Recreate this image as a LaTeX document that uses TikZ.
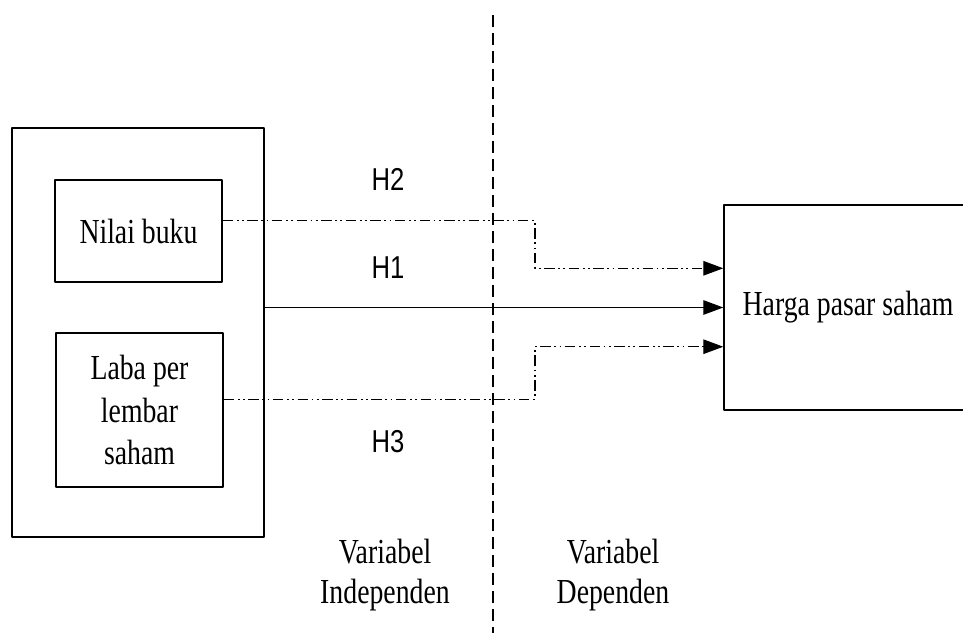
\documentclass[tikz,border=0pt]{standalone}
\usepackage{fontspec}
\setmainfont{Liberation Serif}[FakeStretch=0.79]
\newfontfamily\hfont{Liberation Sans}[FakeStretch=0.81]
\usetikzlibrary{arrows.meta,calc,positioning}

\begin{document}
\begin{tikzpicture}[x=0.2mm,y=-0.2mm,line join=round,
  box/.style={draw,line width=0.8pt,inner sep=0pt,align=center,font=\fontsize{20}{24}\selectfont},
  hyp/.style={font=\hfont\fontsize{18}{20}\selectfont},
  varlbl/.style={align=center,font=\fontsize{20}{23}\selectfont},
  dd/.style={line width=0.7pt,dash pattern=on 6pt off 2pt on 1pt off 2pt on 1pt off 2pt},
  tip/.style={-{Triangle[length=4mm,width=2.9mm]}},
  divider/.style={line width=0.6pt,dash pattern=on 2.4mm off 1.2mm}]
\useasboundingbox (0,0) rectangle (963,633);
% boxes
\node[box,minimum width=50.4mm,minimum height=81.8mm] (indep) at (138,332.5) {};
\node[box,minimum width=33.4mm,minimum height=20.4mm] (nilai) at (138.5,231) {Nilai buku};
\node[box,minimum width=33.4mm,minimum height=30.8mm] (laba) at (139.5,410) {Laba per\\lembar\\saham};
\node[box,minimum width=49.6mm,minimum height=41mm] (harga) at (848,307.5) {Harga pasar saham};
% divider
\coordinate (top) at (493,15);
\coordinate (bot) at (493,633);
\draw[divider] (top) -- (bot);
% connectors
\coordinate (a2) at ($(nilai.north east)!0.4!(nilai.south east)$);
\coordinate (a3) at ($(laba.north east)!0.43!(laba.south east)$);
\coordinate (c2) at ($(harga.north west)!0.31!(harga.south west)$);
\coordinate (c3) at ($(harga.north west)!0.69!(harga.south west)$);
\coordinate (bend) at (535,0);
\draw[dd,tip] (a2) -| (bend |- c2) -- (c2);
\draw[line width=0.7pt,tip] (indep.east |- harga.west) -- (harga.west);
\draw[dd,tip] (a3) -| (bend |- c3) -- (c3);
% labels
\node[hyp] (h2) at (388,179) {H2};
\node[hyp] (h1) at (388,268) {H1};
\node[hyp] (h3) at (388,442) {H3};
\node[varlbl] (vind) at (385,575) {Variabel\\Independen};
\node[varlbl] (vdep) at (613,575) {Variabel\\Dependen};
\end{tikzpicture}
\end{document}
